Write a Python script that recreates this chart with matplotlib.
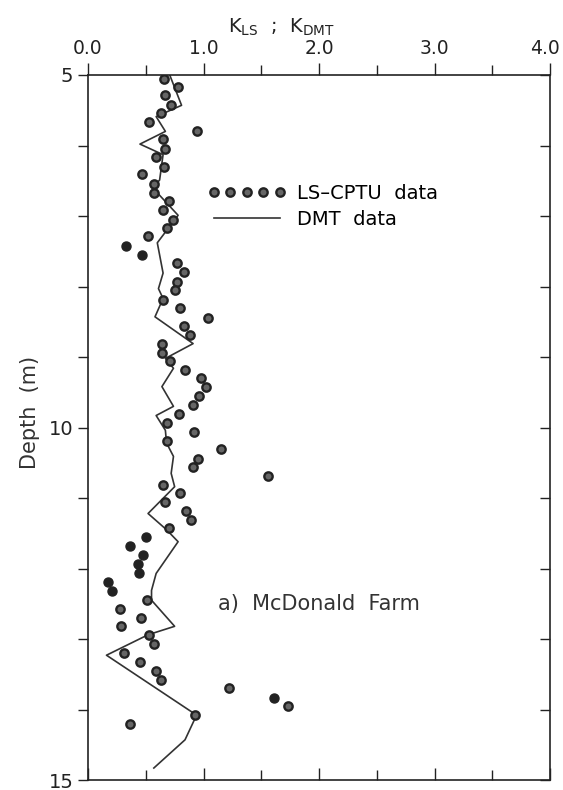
import matplotlib
matplotlib.use('Agg')
import matplotlib.pyplot as plt
from matplotlib.ticker import MultipleLocator
from matplotlib.transforms import ScaledTranslation

# LS-CPTU points (K_LS vs depth)
ls_k = [0.66, 0.78, 0.67, 0.72, 0.63, 0.53, 0.94, 0.65, 0.67, 0.59, 0.66, 0.47,
        0.57, 0.57, 0.70, 0.65, 0.74, 0.68, 0.52, 0.33, 0.47, 0.77, 0.83, 0.77,
        0.75, 0.65, 0.80, 1.04, 0.83, 0.88, 0.64, 0.64, 0.71, 0.84, 0.98, 1.02,
        0.96, 0.91, 0.79, 0.68, 0.92, 0.68, 1.15, 0.95, 0.91, 1.56, 0.65, 0.80,
        0.67, 0.85, 0.89, 0.70, 0.50, 0.36, 0.48, 0.43, 0.44, 0.17, 0.21, 0.51,
        0.28, 0.46, 0.29, 0.53, 0.57, 0.31, 0.45, 0.59, 0.63, 1.22, 1.61, 1.73,
        0.93, 0.36]
ls_depth = [5.05, 5.17, 5.28, 5.42, 5.54, 5.67, 5.79, 5.91, 6.05, 6.17, 6.30, 6.41,
            6.55, 6.67, 6.79, 6.92, 7.05, 7.17, 7.29, 7.42, 7.55, 7.67, 7.80, 7.93,
            8.05, 8.19, 8.31, 8.44, 8.56, 8.69, 8.81, 8.94, 9.06, 9.18, 9.30, 9.43,
            9.56, 9.68, 9.81, 9.93, 10.06, 10.19, 10.31, 10.44, 10.56, 10.69, 10.81, 10.93,
            11.06, 11.18, 11.31, 11.43, 11.56, 11.68, 11.81, 11.94, 12.06, 12.19, 12.32, 12.45,
            12.57, 12.70, 12.82, 12.95, 13.07, 13.20, 13.33, 13.45, 13.58, 13.70, 13.83, 13.95,
            14.08, 14.21]
# solid black markers (no light centre)
solid_idx = [19, 20, 52, 53, 54, 55, 56, 57, 58, 70]

# DMT profile (K_DMT vs depth)
dmt_k = [0.71, 0.81, 0.59, 0.67, 0.45, 0.65, 0.62, 0.56, 0.78, 0.60, 0.65, 0.61,
         0.65, 0.58, 0.91, 0.67, 0.74, 0.64, 0.74, 0.59, 0.67, 0.68, 0.74, 0.72,
         0.75, 0.52, 0.68, 0.78, 0.59, 0.55, 0.55, 0.75, 0.52, 0.16, 0.94, 0.84, 0.57]
dmt_depth = [5.01, 5.43, 5.59, 5.80, 5.98, 6.13, 6.49, 6.60, 6.99, 7.38, 7.81, 8.03,
             8.17, 8.43, 8.81, 9.02, 9.16, 9.42, 9.70, 9.83, 10.04, 10.22, 10.41, 10.65,
             10.84, 11.22, 11.45, 11.62, 12.07, 12.31, 12.45, 12.82, 12.94, 13.23, 14.08, 14.43, 14.83]

x_ticklabels = ['0.0', '1.0', '2.0', '3.0', '4.0']

plt.rcParams['font.family'] = ['DejaVu Sans']

fig = plt.figure(figsize=(5.63, 7.90), dpi=100)
ax = fig.add_axes([88 / 563, 1 - 780 / 790, (550 - 88) / 563, (780 - 75) / 790])

ax.plot(dmt_k, dmt_depth, color='#333333', lw=1.2, label='DMT  data')

other = [i for i in range(len(ls_k)) if i not in solid_idx]
ax.plot([ls_k[i] for i in other], [ls_depth[i] for i in other], 'o', ms=6,
        mfc='#666666', mec='#222222', mew=1.7, label='LS\u2013CPTU  data')
ax.plot([ls_k[i] for i in solid_idx], [ls_depth[i] for i in solid_idx], 'o', ms=6.5,
        mfc='#222222', mec='#222222', mew=1.0)

ax.set_xlim(0, 4)
ax.set_ylim(15, 5)

ax.xaxis.set_ticks_position('both')
ax.xaxis.set_label_position('top')
ax.tick_params(axis='x', which='both', top=True, bottom=True, labeltop=True,
               labelbottom=False, direction='out', labelsize=13.5, pad=3, colors='#222222')
ax.set_xticks([0, 1, 2, 3, 4])
ax.set_xticklabels(x_ticklabels)
ax.xaxis.set_minor_locator(MultipleLocator(0.5))
ax.tick_params(axis='x', which='major', length=9, width=1)
ax.tick_params(axis='x', which='minor', length=7, width=1)
# bottom ticks point inward
for t in ax.xaxis.get_major_ticks() + ax.xaxis.get_minor_ticks():
    t.tick1line.set_marker(2)
# keep the last top label inside the figure
last = ax.get_xticklabels(which='major')
for lab in ax.xaxis.get_major_ticks()[-1:]:
    lab.label2.set_transform(lab.label2.get_transform()
                             + ScaledTranslation(-5 / 100, 0, fig.dpi_scale_trans))

ax.set_yticks([5, 10, 15])
ax.yaxis.set_minor_locator(MultipleLocator(1))
ax.yaxis.set_ticks_position('both')
ax.tick_params(axis='y', which='both', left=True, right=True, direction='out',
               labelsize=14, length=7, width=1, colors='#222222')
for t in ax.yaxis.get_major_ticks() + ax.yaxis.get_minor_ticks():
    t.tick2line.set_marker(0)

for s in ax.spines.values():
    s.set_linewidth(1.2)
    s.set_color('#222222')

fig.text(281 / 563, 1 - 27 / 790, 'K$_{\\mathregular{LS}}$  ;  K$_{\\mathregular{DMT}}$',
         ha='center', va='center', fontsize=14, color='#222222')
fig.text(30 / 563, 1 - 412 / 790, 'Depth  (m)', rotation=90, ha='center', va='center',
         fontsize=15, color='#333333')

handles, labels = ax.get_legend_handles_labels()
leg = ax.legend(handles[::-1], labels[::-1], numpoints=5, handlelength=4.0,
                frameon=False, fontsize=14, loc='upper left',
                bbox_to_anchor=(0.23, 0.865), handletextpad=0.6, labelspacing=0.38,
                borderpad=0.2)

ax.text(0.282, 0.25, 'a)  McDonald  Farm', transform=ax.transAxes, fontsize=15,
        ha='left', va='center', color='#333333')

fig.savefig('out.png', dpi=100)
